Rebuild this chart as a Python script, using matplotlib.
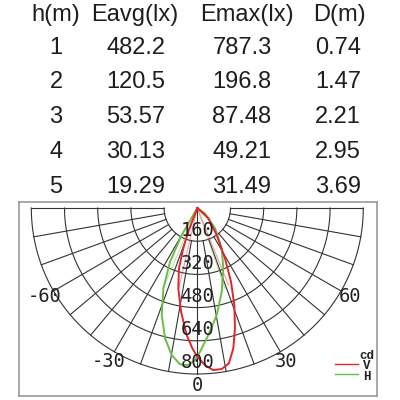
import numpy as np
import matplotlib
matplotlib.use("Agg")
import matplotlib.pyplot as plt

# ---- table data ----
headers = ["h(m)", "Eavg(lx)", "Emax(lx)", "D(m)"]
heights = ["1", "2", "3", "4", "5"]
eavg = ["482.2", "120.5", "53.57", "30.13", "19.29"]
emax = ["787.3", "196.8", "87.48", "49.21", "31.49"]
dist = ["0.74", "1.47", "2.21", "2.95", "3.69"]

# ---- polar chart data ----
ring_values = [160, 320, 480, 640, 800]
angle_labels = [-60, -30, 0, 30, 60]
spoke_angles = list(range(-90, 91, 10))
legend_labels = ["cd", "V", "H"]

v_angles = [-22, -20.8, -19.2, -16.9, -13.3, -8.9, -4.8, -2.0, 0, 2.8, 5.6, 8.6,
            11.5, 14.4, 17.4, 20.9, 24.6, 28.8, 35.7, 46.9, 70]
v_cd = [0, 122, 206, 304, 398, 506, 614, 677, 717, 758, 785, 785,
        764, 698, 607, 500, 390, 277, 160, 73, 0]

h_angles = [-32, -30.0, -26.9, -22.9, -18.4, -13.9, -9.9, -6.3, -3.3, -0.9, 1.1,
            5.0, 10.3, 16.3, 23.3, 31.2, 41.1, 55, 70]
h_cd = [0, 150, 290, 420, 543, 647, 719, 758, 758, 733, 693,
        614, 524, 420, 317, 227, 130, 45, 0]

v_beam_angles = [-13, 22]
v_beam_cd = [398, 400]
h_beam_angles = [-23, 19]
h_beam_cd = [410, 410]

RED = "#e3262a"
GREEN = "#6cbd45"
GRID = "#333333"


def to_xy(angles, cds):
    a = np.radians(np.asarray(angles, dtype=float))
    r = np.asarray(cds, dtype=float)
    return r * np.sin(a), -r * np.cos(a)


fig = plt.figure(figsize=(4, 4), dpi=100)
fig.patch.set_facecolor("white")

# ---- table (figure pixel coordinates) ----
W = H = 400.0
tfont = dict(family="Liberation Sans", fontsize=17, color="#1e1e1e")
header_x = [56, 135, 247, 339]
value_x = [56, 136, 242, 338]
header_base = 20.5
row_base = [54.3, 88.3, 123.3, 157.6, 192.6]
for x, t in zip(header_x, headers):
    fig.text(x / W, 1 - header_base / H, t, ha="center", va="baseline", **tfont)
cols = [heights, eavg, emax, dist]
for ci, col in enumerate(cols):
    for ri, t in enumerate(col):
        fig.text(value_x[ci] / W, 1 - row_base[ri] / H, t, ha="center",
                 va="baseline", **tfont)

# ---- polar diagram axes ----
left_px, right_px, top_px, bot_px = 18.5, 376.7, 201.7, 396.0
cx_px, cy_px = 197.3, 208.0
R_px = 166.0
k = 800.0 / R_px  # cd per pixel
ax = fig.add_axes([left_px / W, 1 - bot_px / H, (right_px - left_px) / W,
                   (bot_px - top_px) / H])
ax.set_xlim((left_px - cx_px) * k, (right_px - cx_px) * k)
ax.set_ylim(-(bot_px - cy_px) * k, (cy_px - top_px) * k)
ax.set_xticks([])
ax.set_yticks([])
for s in ax.spines.values():
    s.set_color("#9a9a9a")
    s.set_linewidth(1.2)

# rings
th = np.linspace(-90, 90, 361)
for rv in ring_values:
    x, y = to_xy(th, np.full_like(th, rv))
    ax.plot(x, y, color=GRID, lw=0.8, zorder=1)
# spokes
for a in spoke_angles:
    inner = 0 if a == 0 else ring_values[0]
    x, y = to_xy([a, a], [inner, ring_values[-1]])
    ax.plot(x, y, color=GRID, lw=0.8, zorder=1)

# beam lines (faint)
for a, c in zip(v_beam_angles, v_beam_cd):
    x, y = to_xy([a, a], [0, c])
    ax.plot(x, y, color=RED, lw=0.8, alpha=0.45, zorder=2)
for a, c in zip(h_beam_angles, h_beam_cd):
    x, y = to_xy([a, a], [0, c])
    ax.plot(x, y, color=GREEN, lw=0.8, alpha=0.45, zorder=2)

# curves
x, y = to_xy(h_angles, h_cd)
ax.plot(x, y, color=GREEN, lw=1.4, zorder=3, solid_joinstyle="round")
x, y = to_xy(v_angles, v_cd)
ax.plot(x, y, color=RED, lw=1.4, zorder=3, solid_joinstyle="round")

# ring value labels
lfont = dict(family="DejaVu Sans Mono", fontsize=13.5, color="#222222")
for rv in ring_values:
    ax.text(0, -(rv - 27), str(rv), ha="center", va="baseline", zorder=4, **lfont)

# angle labels
for a in angle_labels:
    x, y = to_xy([a], [852])
    ax.text(x[0], y[0] - 6 * k, str(a), ha="center", va="baseline", zorder=4, **lfont)

# legend (one multi-line text block)
gfont = dict(family="Liberation Mono", fontsize=9, fontweight="bold", color="#222222")
fig.text(366.5 / W, 1 - 379.5 / H, "\n".join(legend_labels), ha="center",
         va="baseline", multialignment="center", linespacing=0.82, **gfont)
fig.add_artist(plt.Line2D([335 / W, 358 / W], [1 - 364 / H] * 2, color=RED, lw=1.0))
fig.add_artist(plt.Line2D([335 / W, 358 / W], [1 - 373.5 / H] * 2, color=GREEN, lw=1.0))

fig.savefig("out.png", dpi=100)
